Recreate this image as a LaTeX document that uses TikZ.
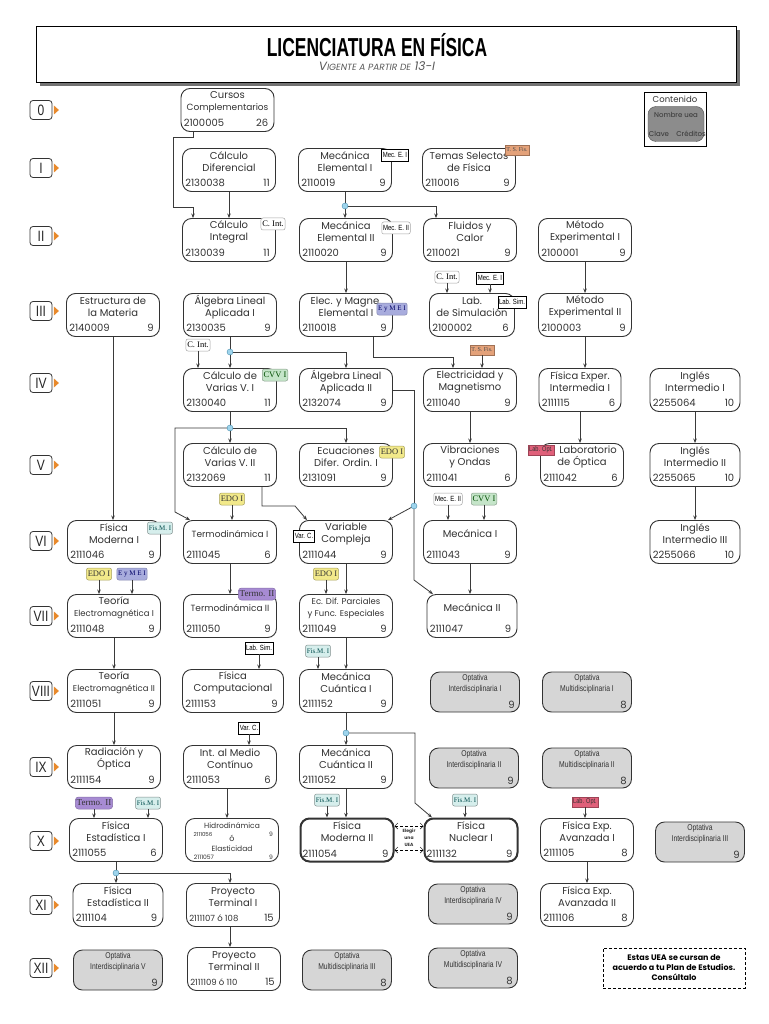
\documentclass[tikz,border=0pt]{standalone}
\usepackage{fontspec}
\setmainfont{Poppins}
\newfontfamily\serifTag{Liberation Serif}
\newfontfamily\narrowf{Liberation Sans}[FakeStretch=0.8]
\newfontfamily\titlefont{Liberation Sans}[FakeStretch=0.67]
\usetikzlibrary{arrows.meta,calc}
\definecolor{boxc}{HTML}{333333}
\definecolor{txtc}{HTML}{333333}
\definecolor{linec}{HTML}{3A3A3A}
\definecolor{optgray}{HTML}{D6D6D6}
\definecolor{dotc}{HTML}{9ED4EC}
\definecolor{dotl}{HTML}{4A90B0}
\definecolor{semor}{HTML}{E8892B}
\definecolor{orgf}{HTML}{E4A27A}
\definecolor{lavf}{HTML}{A8ACDD}
\definecolor{grnf}{HTML}{C5E5C9}
\definecolor{yelf}{HTML}{F2E98A}
\definecolor{cynf}{HTML}{D6EEEC}
\definecolor{purf}{HTML}{A78BD3}
\definecolor{redf}{HTML}{E0607A}
\definecolor{legg}{HTML}{8C8C8C}
\newcommand\sm{\fontsize{8.5}{11.5}\selectfont}
\newcommand\smm{\fontsize{9}{11.5}\selectfont}
\tikzset{
 box/.style={draw=boxc, line width=0.9pt, rounded corners=9pt, minimum width=93pt, minimum height=43pt, inner sep=0pt, fill=white},
 opt/.style={box, fill=optgray, minimum width=89pt, minimum height=40pt},
 ttl/.style={font=\fontsize{10}{12}\selectfont, text=txtc, align=center, inner sep=0pt},
 opttl/.style={font=\narrowf\fontsize{8.5}{11}\selectfont, text=txtc, align=center, inner sep=0pt},
 num/.style={font=\fontsize{10}{11}\selectfont, text=txtc, inner sep=0pt},
 tagbase/.style={inner sep=1.3pt, minimum height=12pt, line width=0.5pt},
 tagblk/.style={tagbase, draw=black, fill=white, font=\narrowf\fontsize{7.5}{8}\selectfont},
 tagrnd/.style={tagbase, draw=gray!70, fill=white, rounded corners=2pt, font=\narrowf\fontsize{7.5}{8}\selectfont},
 tagrnds/.style={tagrnd, font=\serifTag\fontsize{8.5}{9}\selectfont},
 tagorg/.style={tagbase, draw=orgf!70!black, fill=orgf, font=\serifTag\fontsize{6}{6}\selectfont, text=black!70, minimum height=10pt},
 taglav/.style={tagbase, draw=lavf!80!black, fill=lavf, rounded corners=2pt, font=\serifTag\fontsize{7}{7}\selectfont, text=blue!40!black},
 taggrn/.style={tagbase, draw=grnf!70!black, fill=grnf, rounded corners=2pt, font=\serifTag\fontsize{8.5}{9}\selectfont, text=green!30!black},
 tagyel/.style={tagbase, draw=yelf!70!black, fill=yelf, rounded corners=2pt, font=\serifTag\fontsize{8.5}{9}\selectfont, text=black!80},
 tagcyn/.style={tagbase, draw=cynf!60!black, fill=cynf, rounded corners=2pt, font=\serifTag\fontsize{7}{7}\selectfont, text=teal!60!black},
 tagpur/.style={tagbase, draw=purf!80!black, fill=purf, rounded corners=3pt, font=\serifTag\fontsize{9}{9}\selectfont, text=black!80},
 tagred/.style={tagbase, draw=redf!70!black, fill=redf, font=\narrowf\fontsize{7}{7}\selectfont, text=black!80, minimum height=10pt},
 arr/.style={draw=linec, line width=0.8pt, -{Stealth[length=4.5pt,width=3.5pt]}},
 ln/.style={draw=linec, line width=0.8pt},
 dot/.style={circle, fill=dotc, draw=dotl, line width=0.4pt, inner sep=0pt, minimum size=6pt},
 semb/.style={draw=black!80, line width=0.8pt, rounded corners=3pt, minimum width=22pt, minimum height=19pt, inner sep=1pt, font=\narrowf\fontsize{15}{15}\selectfont, text=black!85},
 small/.style={inner sep=0pt, text=txtc}
}
\newcommand\uea[6][]{%
 \node[box,#1] (#2) at (#3) {};
 \node[ttl] (#2-t) at ([yshift=-14pt]#2.north) {#4};
 \node[num,anchor=base west] (#2-c) at ([xshift=3pt,yshift=5pt]#2.south west) {#5};
 \node[num,anchor=base east] (#2-k) at ([xshift=-6pt,yshift=5pt]#2.south east) {#6};
}
\newcommand\optv[4]{%
 \node[opt] (#1) at (#2) {};
 \node[opttl] (#1-t) at ([yshift=-12pt]#1.north) {#3};
 \node[num,anchor=base east] (#1-k) at ([xshift=-5pt,yshift=4pt]#1.south east) {#4};
}
\newcommand\sem[3]{%
 \node[semb] (#1) at (41,#2) {#3};
 \fill[semor] ($(#1.east)+(1.5,-4.5)$) -- ++(0,9) -- ++(5,-4.5) -- cycle;
}
\begin{document}
\begin{tikzpicture}[x=1pt,y=-1pt]
\useasboundingbox (0,0) rectangle (768,1024);
\fill[white] (0,0) rectangle (768,1024);
% header
\fill[black!55] (40,30) rectangle (740,86);
\draw[fill=white, line width=0.8pt] (36,26) rectangle (736,82);
\node[font=\titlefont\bfseries\fontsize{26}{26}\selectfont, inner sep=0pt] (title) at (377,45) {LICENCIATURA EN FÍSICA};
\node[font=\itshape\fontsize{12}{12}\selectfont, text=black!65, inner sep=0pt] (sub) at (377,66) {V{\fontsize{9}{9}\selectfont IGENTE A PARTIR DE} 13-I};
% legend
\node[draw=black, line width=0.6pt, minimum width=62pt, minimum height=54pt, inner sep=0pt] (leg) at (675,119) {};
\node[small, font=\fontsize{8.5}{9}\selectfont] (legt) at (675,99) {Contenido};
\node[draw=black!70, fill=legg, rounded corners=8pt, minimum width=56pt, minimum height=35pt, inner sep=0pt] (legb) at (676,124) {};
\node[small, font=\fontsize{7}{7}\selectfont, text=black!80] (legn) at (676,115) {Nombre uea};
\node[small, font=\fontsize{7}{7}\selectfont, text=black!80] (legc) at (659,134) {Clave};
\node[small, font=\fontsize{7}{7}\selectfont, text=black!80] (legk) at (691,134) {Créditos};
% semesters
\sem{s0}{110}{0}
\sem{s1}{168}{I}
\sem{s2}{236}{II}
\sem{s3}{311}{III}
\sem{s4}{383}{IV}
\sem{s5}{465}{V}
\sem{s6}{541}{VI}
\sem{s7}{616}{VII}
\sem{s8}{691}{VIII}
\sem{s9}{767}{IX}
\sem{s10}{841}{X}
\sem{s11}{905}{XI}
\sem{s12}{968}{XII}
% row 0
\uea{cc}{227.5,110}{Cursos\\\smm Complementarios}{2100005}{26}
% row I
\uea{cd}{229,170}{Cálculo\\Diferencial}{2130038}{11}
\uea{me1}{345,170}{Mecánica\\Elemental I}{2110019}{9}
\uea{tsf}{469,170}{Temas Selectos\\de Física}{2110016}{9}
% row II
\uea{ci}{229,240}{Cálculo\\Integral}{2130039}{11}
\uea{me2}{346,240}{Mecánica\\Elemental II}{2110020}{9}
\uea{fc}{470,240}{Fluidos y\\Calor}{2110021}{9}
\uea{mx1}{585,240}{Método\\Experimental I}{2100001}{9}
% row III
\uea{est}{113,315}{Estructura de\\la Materia}{2140009}{9}
\uea{al1}{230,315}{Álgebra Lineal\\Aplicada I}{2130035}{9}
\uea{em1}{346,315}{Elec. y Magne.\\Elemental I}{2110018}{9}
\uea[minimum width=85pt]{lab}{472,315}{Lab.\\de Simulación}{2100002}{6}
\uea{mx2}{585,315}{Método\\Experimental II}{2100003}{9}
% row IV
\uea{cvv1}{230,390}{Cálculo de\\Varias V. I}{2130040}{11}
\uea{al2}{346,390}{Álgebra Lineal\\Aplicada II}{2132074}{9}
\uea{ele}{470,390}{Electricidad y\\Magnetismo}{2111040}{9}
\uea[minimum width=82pt]{fei}{580,390}{Física Exper.\\Intermedia I}{2111115}{6}
\uea[minimum width=90pt]{ing1}{695,390}{Inglés\\Intermedio I}{2255064}{10}
% row V
\uea{cvv2}{230,465}{Cálculo de\\Varias V. II}{2132069}{11}
\uea{ecu}{346,465}{Ecuaciones\\Difer. Ordin. I}{2131091}{9}
\uea{vib}{470,465}{Vibraciones\\y Ondas}{2111041}{6}
\uea[minimum width=83pt]{lo}{582,465}{\hspace*{12pt}Laboratorio\\de Óptica}{2111042}{6}
\uea[minimum width=90pt]{ing2}{695,465}{Inglés\\Intermedio II}{2255065}{10}
% row VI
\uea{fm1}{114,542}{Física\\Moderna I}{2111046}{9}
\uea{t1}{230,542}{\smm Termodinámica I}{2111045}{6}
\uea{vc}{346,542}{Variable\\Compleja}{2111044}{9}
\uea{mi}{470,542}{Mecánica I}{2111043}{9}
\uea[minimum width=90pt]{ing3}{695,542}{Inglés\\Intermedio III}{2255066}{10}
% row VII
\uea{tem1}{114,616}{Teoría\\\sm Electromagnética I}{2111048}{9}
\uea{t2}{230,616}{\smm Termodinámica II}{2111050}{9}
\uea{ecp}{346,616}{\sm Ec. Dif. Parciales\\\sm y Func. Especiales}{2111049}{9}
\uea[minimum width=90pt]{m2}{472,616}{Mecánica II}{2111047}{9}
% row VIII
\uea{tem2}{114,691}{Teoría\\\sm Electromagnética II}{2111051}{9}
\uea[minimum width=101pt]{fcomp}{233,691}{Física\\Computacional}{2111153}{9}
\uea{mc1}{346,691}{Mecánica\\Cuántica I}{2111152}{9}
\optv{oi1}{475,692}{Optativa\\Interdisciplinaria I}{9}
\optv{om1}{587,692}{Optativa\\Multidisciplinaria I}{8}
% row IX
\uea{rad}{114,767}{Radiación y\\Óptica}{2111154}{9}
\uea{imc}{230,767}{Int. al Medio\\Contínuo}{2111053}{6}
\uea{mc2}{346,767}{Mecánica\\Cuántica II}{2111052}{9}
\optv{oi2}{474,768}{Optativa\\Interdisciplinaria II}{9}
\optv{om2}{587,768}{Optativa\\Multidisciplinaria II}{8}
% row X
\uea{fe1}{116,840}{Física\\Estadística I}{2111055}{6}
\node[box] (hid) at (232,840) {};
\node[small, font=\fontsize{7.5}{8}\selectfont] (hid-a) at (232,826) {Hidrodinámica};
\node[small, font=\fontsize{5.5}{6}\selectfont] (hid-b) at (203,834) {2111056};
\node[small, font=\fontsize{6}{6}\selectfont] (hid-c) at (271,834) {9};
\node[small, font=\fontsize{8}{8}\selectfont] (hid-d) at (232,838) {ó};
\node[small, font=\fontsize{7.5}{8}\selectfont] (hid-e) at (232,849) {Elasticidad};
\node[small, font=\fontsize{6}{6}\selectfont] (hid-f) at (204,857) {2111057};
\node[small, font=\fontsize{6}{6}\selectfont] (hid-g) at (271,857) {9};
\uea[line width=2pt]{fm2}{347,840}{Física\\Moderna II}{2111054}{9}
\uea[line width=2pt]{fn}{471,840}{Física\\Nuclear I}{2111132}{9}
\uea{fea1}{587,840}{Física Exp.\\Avanzada I}{2111105}{8}
\optv{oi3}{700,842}{Optativa\\Interdisciplinaria III}{9}
% row XI
\uea[minimum width=90pt]{fe2}{118,905}{Física\\Estadística II}{2111104}{9}
\uea{pt1}{233,905}{Proyecto\\Terminal I}{\fontsize{8.5}{9}\selectfont 2111107 ó 108}{15}
\optv{oi4}{473,904}{Optativa\\Interdisciplinaria IV}{9}
\uea{fea2}{587,905}{Física Exp.\\Avanzada II}{2111106}{8}
% row XII
\optv{oi5}{118,970}{Optativa\\Interdisciplinaria V}{9}
\uea{pt2}{234,969}{Proyecto\\Terminal II}{\fontsize{8.5}{9}\selectfont 2111109 ó 110}{15}
\optv{om3}{347,970}{Optativa\\Multidisciplinaria III}{8}
\optv{om4}{473,968}{Optativa\\Multidisciplinaria IV}{8}
% note
\node[draw=black, densely dashed, line width=1pt, minimum width=142pt, minimum height=40pt, align=center, inner sep=1pt, font=\bfseries\fontsize{8}{10}\selectfont] (note) at (674,968) {Estas UEA se cursan de\\acuerdo a tu Plan de Estudios.\\Consúltalo};
% junction coordinates
\coordinate (j1) at (345,206);
\coordinate (j2) at (230,352);
\coordinate (j3) at (230,428);
\coordinate (j4) at (414,506);
\coordinate (j5) at (346,733);
\coordinate (j6) at (116,873);
% connectors
\draw[arr] ([xshift=-34pt]cc.south) |- (173,137) -- (173,207) -| ([xshift=-36pt]ci.north);
\draw[arr] (cd.south) -- (cd.south |- ci.north);
\draw[ln] (me1.south) -- (j1);
\draw[arr] (j1) -- (j1 |- me2.north);
\draw[arr] (j1) -| ([xshift=-34pt]fc.north);
\draw[arr] (me2.south) -- (me2.south |- em1.north);
\draw[arr] (mx1.south) -- (mx1.south |- mx2.north);
\draw[arr] (est.south) -- (est.south |- fm1.north);
\draw[ln] (al1.south) -- (j2);
\draw[arr] (j2) -- (j2 |- cvv1.north);
\draw[arr] (j2) -| (al2.north);
\draw[arr] ([xshift=27pt]em1.south) -- ++(0,20) -| ([xshift=-17pt]ele.north);
\draw[arr] (mx2.south) -- (mx2.south |- fei.north);
\draw[arr] (ing1.south) -- (ing2.north);
\draw[arr] (ing2.south) -- (ing3.north);
\draw[arr] (ele.south) -- (vib.north);
\draw[arr] (fei.south) -- (fei.south |- lo.north);
\draw[ln] (cvv1.south) -- (j3);
\draw[arr] (j3) -- (cvv2.north);
\draw[arr] (j3) -| (ecu.north);
\draw[arr] (j3) -- (175,428) -- (175,512) -- ([xshift=-40pt]t1.north);
\draw[ln] (al2.east) -- (al2.east -| j4) -- (j4);
\draw[arr] (j4) -- ([xshift=42pt]vc.north);
\draw[arr] (j4) -- (414,580) -- ([xshift=-39pt]m2.north);
\draw[arr] ([xshift=32pt]cvv2.south) |- (295,506) -- ([xshift=-39pt]vc.north);
\draw[arr] (mi.south) -- (mi.south |- m2.north);
\draw[arr] (t1.south) -- (t2.north);
\draw[arr] (vc.south) -- (ecp.north);
\draw[arr] (tem1.south) -- (tem2.north);
\draw[arr] (tem2.south) -- (rad.north);
\draw[arr] (ecp.south) -- (mc1.north);
\draw[ln] (mc1.south) -- (j5);
\draw[arr] (j5) -- (mc2.north);
\draw[arr] (j5) -- (415,733) -- (415,803) -- ([xshift=-39pt]fn.north);
\draw[arr] ([xshift=-3pt]imc.south) -- ([xshift=-3pt]imc.south |- hid.north);
\draw[arr] (mc2.south) -- (mc2.south |- fm2.north);
\draw[arr] (fea1.south) -- (fea2.north);
\draw[ln] (fe1.south) -- (j6);
\draw[arr] (j6) -- (j6 |- fe2.north);
\draw[arr] (j6) -| ([xshift=-3pt]pt1.north);
\draw[arr] ([xshift=-3pt]pt1.south) -- ([xshift=-3pt]pt1.south |- pt2.north);
% elegir una UEA
\draw[densely dashed, line width=0.5pt, {Straight Barb[length=3pt]}-{Straight Barb[length=3pt]}] ([yshift=14pt]fm2.east) -- ([yshift=14pt]fn.west);
\draw[densely dashed, line width=0.5pt, {Straight Barb[length=3pt]}-{Straight Barb[length=3pt]}] ([yshift=-10pt]fm2.east) -- ([yshift=-10pt]fn.west);
\node[small, align=center, font=\bfseries\fontsize{4.5}{7}\selectfont] (eleg) at (409,838) {Elegir\\una\\UEA};
% tags
\node[tagblk] (tMecEI1) at (395,155) {Mec. E. I};
\node[tagorg] (tTSF1) at (517,150) {T. S. Fis.};
\node[tagrnds] (tCInt2) at (273,224) {C. Int.};
\node[tagrnd] (tMecEII2) at (396,228) {Mec. E. II};
\node[tagrnds] (tCInt3) at (447,277) {C. Int.};
\node[tagblk] (tMecEI3) at (490,278) {Mec. E. I};
\node[tagblk] (tLabSim3) at (512,302) {Lab. Sim.};
\node[taglav] (tEyME3) at (392,309) {E y M E I};
\node[tagrnds] (tCInt4) at (198,345) {C. Int.};
\node[taggrn] (tCVV4) at (275,375) {CVV I};
\node[tagorg] (tTSF4) at (482,350) {T. S. Fis.};
\node[tagyel] (tEDO5) at (392,452) {EDO I};
\node[tagred] (tLO5) at (541,450) {Lab. Opt.};
\node[tagcyn] (tFM6) at (160,528) {Fis.M. I};
\node[tagyel] (tEDO6) at (232,499) {EDO I};
\node[tagblk] (tVC6) at (304,536) {Var. C.};
\node[tagrnd] (tMecEII6) at (448,499) {Mec. E. II};
\node[taggrn] (tCVV6) at (484,499) {CVV I};
\node[tagyel] (tEDO7a) at (99,574) {EDO I};
\node[taglav] (tEyME7) at (132,574) {E y M E I};
\node[tagpur] (tTermo7) at (257,594) {Termo. II};
\node[tagyel] (tEDO7c) at (326,574) {EDO I};
\node[tagblk] (tLabSim8) at (259,648) {Lab. Sim.};
\node[tagcyn] (tFM8) at (318,651) {Fis.M. I};
\node[tagblk] (tVC9) at (249,728) {Var. C.};
\node[tagpur] (tTermo10) at (94,803) {Termo. II};
\node[tagcyn] (tFM10a) at (148,803) {Fis.M. I};
\node[tagcyn] (tFM10c) at (327,800) {Fis.M. I};
\node[tagcyn] (tFM10d) at (465,800) {Fis.M. I};
\node[tagred] (tLO10) at (585,802) {Lab. Opt.};
% tag arrows
\draw[arr] (tCInt3.south) -- (tCInt3.south |- lab.north);
\draw[arr] (tMecEI3.south) -- (tMecEI3.south |- lab.north);
\draw[arr] (tCInt4.south) -- (tCInt4.south |- cvv1.north);
\draw[arr] (tTSF4.south) -- (tTSF4.south |- ele.north);
\draw[arr] (tEDO6.south) -- (tEDO6.south |- t1.north);
\draw[arr] (tMecEII6.south) -- (tMecEII6.south |- mi.north);
\draw[arr] (tCVV6.south) -- (tCVV6.south |- mi.north);
\draw[arr] (tEDO7a.south) -- (tEDO7a.south |- tem1.north);
\draw[arr] (tEyME7.south) -- (tEyME7.south |- tem1.north);
\draw[arr] (tEDO7c.south) -- (tEDO7c.south |- ecp.north);
\draw[arr] (tLabSim8.south) -- (tLabSim8.south |- fcomp.north);
\draw[arr] (tFM8.south) -- (tFM8.south |- mc1.north);
\draw[arr] (tVC9.south) -- (tVC9.south |- imc.north);
\draw[arr] (tTermo10.south) -- (tTermo10.south |- fe1.north);
\draw[arr] (tFM10a.south) -- (tFM10a.south |- fe1.north);
\draw[arr] (tFM10c.south) -- (tFM10c.south |- fm2.north);
\draw[arr] (tFM10d.south) -- (tFM10d.south |- fn.north);
\draw[arr] (tLO10.south) -- (tLO10.south |- fea1.north);
% junction dots
\node[dot] (d1) at (j1) {};
\node[dot] (d2) at (j2) {};
\node[dot] (d3) at (j3) {};
\node[dot] (d4) at (j4) {};
\node[dot] (d5) at (j5) {};
\node[dot] (d6) at (j6) {};
\end{tikzpicture}
\end{document}
